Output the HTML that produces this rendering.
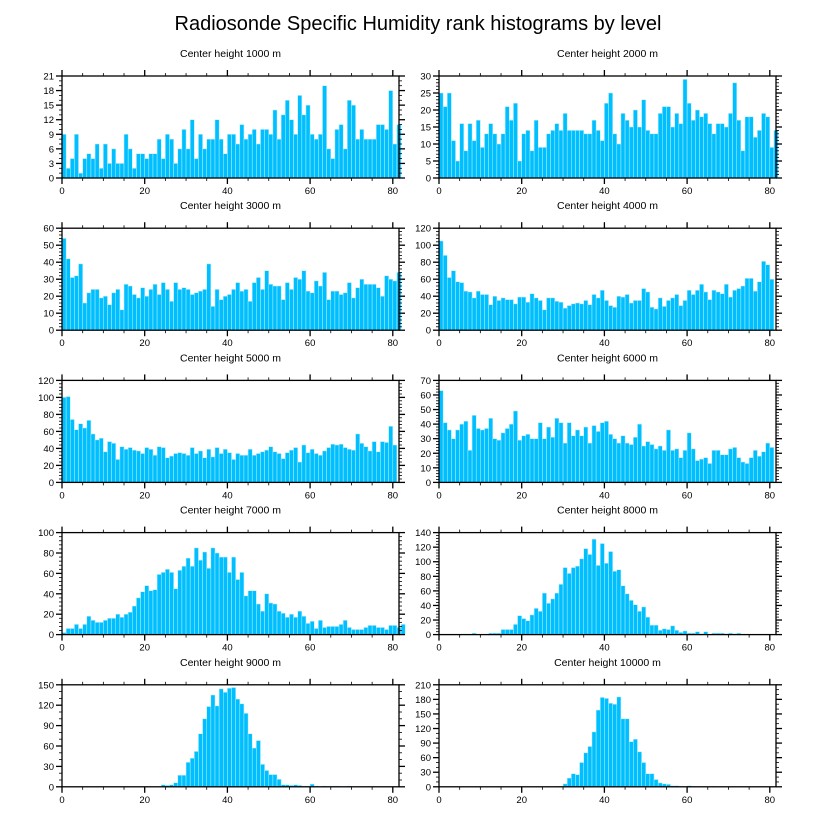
<!DOCTYPE html>
<html><head><meta charset="utf-8"><style>
body{margin:0;background:#fff;}
svg{display:block;font-family:"Liberation Sans",Arial,sans-serif;}
</style></head><body>
<svg id="chart" width="816" height="824" viewBox="0 0 816 824" xmlns="http://www.w3.org/2000/svg">
<text x="418" y="30" text-anchor="middle" font-size="20">Radiosonde Specific Humidity rank histograms by level</text>
</svg>
<script>
const levels = ["1000","2000","3000","4000","5000","6000","7000","8000","9000","10000"];
const yMaxes = [21,30,60,120,120,70,100,140,150,210];
const ySteps = [3,5,10,20,20,10,20,20,30,30];
const xTicks = [0,20,40,60,80];
const h1000 = [9,2,4,9,1,4,5,4,7,2,7,3,6,3,3,9,6,2,5,5,4,5,5,8,4,9,8,3,6,10,6,12,4,9,6,8,8,12,8,5,9,9,7,11,8,9,10,7,10,10,9,14,8,13,16,12,9,17,13,15,9,8,9,19,6,4,10,11,6,16,15,8,10,8,8,8,11,11,10,18,7,11];
const h2000 = [25,21,25,11,5,16,8,16,11,17,9,13,16,13,10,13,21,17,22,5,13,14,8,17,9,9,13,14,16,14,19,14,14,14,14,13,13,17,14,11,22,25,13,10,19,17,15,20,15,23,14,13,13,19,21,21,15,19,16,29,22,17,20,18,19,16,13,16,16,15,19,28,17,8,18,18,12,14,19,18,9,14];
const h3000 = [54,42,31,32,39,16,22,24,24,19,20,15,22,24,12,27,26,21,19,25,20,24,27,21,28,24,17,28,24,25,24,21,22,23,24,39,14,24,18,20,21,24,28,23,24,17,28,31,24,35,27,26,26,18,28,24,31,30,35,23,22,29,26,34,18,23,23,21,22,28,19,25,30,27,27,27,25,20,32,30,29,34];
const h4000 = [105,88,62,70,57,56,46,45,38,46,42,42,30,40,35,38,36,36,31,39,39,33,43,38,35,24,38,38,34,33,26,29,31,32,31,35,30,42,38,47,35,29,27,40,39,42,32,35,35,49,45,27,25,38,28,35,38,42,29,35,47,42,47,54,45,36,47,45,43,54,39,47,49,52,61,61,46,57,81,77,60];
const h5000 = [100,101,74,62,69,64,73,57,50,52,36,48,46,27,42,39,41,38,37,34,41,39,32,42,41,29,31,34,35,34,32,41,34,37,29,39,30,41,34,39,35,27,34,32,32,39,32,34,36,38,42,36,34,28,35,38,41,24,44,35,39,34,32,37,41,45,44,45,41,39,38,57,46,42,37,48,36,48,47,66,44];
const h6000 = [63,41,36,30,36,40,42,22,46,37,36,37,44,30,29,34,37,40,49,29,32,33,30,30,41,30,38,31,44,41,27,41,32,36,32,38,27,39,35,41,42,33,30,27,32,27,26,31,40,25,28,26,23,25,22,36,22,23,17,22,34,23,15,16,17,13,22,22,19,19,23,24,17,14,13,17,22,18,21,27,24];
const h7000 = [2,6,6,10,6,10,18,14,12,12,14,16,16,20,17,20,22,28,36,42,48,43,44,59,61,64,61,45,63,67,75,67,85,73,81,65,85,80,76,76,61,76,54,61,38,43,43,30,23,40,31,30,23,21,17,20,17,23,18,11,13,6,14,7,8,8,8,10,14,7,5,5,5,7,9,9,7,7,5,9,9,7,10];
const h8000 = [0,0,0,0,0,0,0,0,2,0,0,0,2,2,2,7,7,7,14,26,22,19,27,36,32,57,43,49,57,69,92,84,92,94,104,118,110,131,95,125,98,114,87,89,67,56,47,41,32,38,24,13,13,6,8,7,12,6,3,5,2,2,4,1,4,0,2,2,2,1,2,1,2,0,0,0,0,0,0,0,0,0];
const h9000 = [0,0,0,0,0,0,0,0,0,0,0,0,0,0,0,0,0,0,0,0,0,0,0,0,3,2,3,6,17,17,36,42,52,78,100,118,135,119,144,139,145,146,129,122,108,78,57,68,33,24,18,18,11,3,3,2,3,2,1,1,4,1,0,1,0,1,1,0,0,1,0,0,0,0,0,0,0,0,0,0,0,0];
const h10000 = [0,0,0,0,0,0,0,0,0,0,0,0,0,0,0,0,0,0,0,0,0,0,0,0,0,0,1,0,1,1,6,18,27,25,50,70,83,113,158,184,182,172,170,185,140,140,93,98,72,50,27,27,15,8,6,5,2,2,1,0,2,1,0,0,0,0,1,0,0,0,0,0,0,0,0,0,0,0,0,0,0,0];
const allSeries = [h1000,h2000,h3000,h4000,h5000,h6000,h7000,h8000,h9000,h10000];

const NS="http://www.w3.org/2000/svg";
const svg=document.getElementById('chart');
function mk(tag,attrs,parent){const e=document.createElementNS(NS,tag);for(const k in attrs)e.setAttribute(k,attrs[k]);(parent||svg).appendChild(e);return e;}
const XMAX=81.5, PW=337, PH=102;
for(let p=0;p<10;p++){
  const col=p%2,row=Math.floor(p/2);
  const L=col?439:62, T=76+row*152.2, B=T+PH, R=L+PW;
  const g=mk('g',{});
  
  
  const xs=v=>L+v/XMAX*PW;
  const ys=v=>B-v/yMaxes[p]*PH;
  const t=mk('text',{x:(L+R)/2,y:T-19,'text-anchor':'middle','font-size':'10.5'},g);
  t.textContent='Center height '+levels[p]+' m';
  
  
  const data=allSeries[p];
  data.forEach((v,i)=>{
    if(v<=0)return;
    const r=mk('rect',{x:xs(i),y:ys(v),width:xs(i+1)-xs(i),height:B-ys(v),fill:'#00bfff',stroke:'#bdeeff','stroke-width':'0.5'},g);
    
    
  });
  const fr=mk('rect',{x:L,y:T,width:PW,height:PH,fill:'none',stroke:'#000','stroke-width':'1.3'},g);
  
  
  // x ticks
  for(let v=0;v<=XMAX;v+=5){
    const major=v%20===0, len=major?6:3, x=xs(v);
    mk('line',{x1:x,x2:x,y1:B,y2:B+len,stroke:'#000','stroke-width':major?1.3:0.8},g);
    mk('line',{x1:x,x2:x,y1:T,y2:T-len,stroke:'#000','stroke-width':major?1.3:0.8},g);
  }
  xTicks.forEach(v=>{
    if(row===4||true){
      const tx=mk('text',{x:xs(v),y:B+16,'text-anchor':'middle','font-size':'9.5'},g);
      tx.textContent=v;
      
      
    }
  });
  // y ticks
  const st=ySteps[p], sub=(st%3===0)?3:5, ms=st/sub;
  for(let k=0;k*ms<=yMaxes[p]+1e-9;k++){
    const v=k*ms, major=k%sub===0, len=major?6:3, y=ys(v);
    mk('line',{x1:L,x2:L-len,y1:y,y2:y,stroke:'#000','stroke-width':major?1.3:0.8},g);
    mk('line',{x1:R,x2:R+len,y1:y,y2:y,stroke:'#000','stroke-width':major?1.3:0.8},g);
    if(major){
      const ty=mk('text',{x:L-8,y:y+3.5,'text-anchor':'end','font-size':'9.5'},g);
      ty.textContent=v;
      
      
    }
  }
}
</script>
</body></html>
